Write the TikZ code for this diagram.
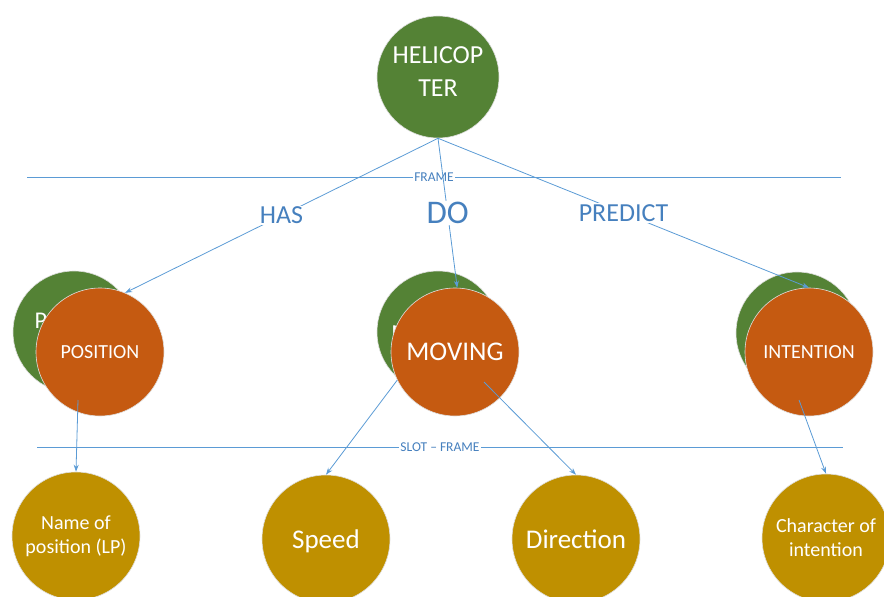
\documentclass[tikz,border=0pt]{standalone}
\usepackage{fontspec}
\setmainfont{Carlito}
\usetikzlibrary{arrows.meta}

\definecolor{framegreen}{RGB}{84,130,53}
\definecolor{slotorange}{RGB}{197,90,17}
\definecolor{valuegold}{RGB}{191,144,0}
\definecolor{linkblue}{RGB}{91,155,213}
\definecolor{labelblue}{RGB}{70,128,190}

\begin{document}
\begin{tikzpicture}[x=1pt, y=-1pt,
  % common options for the circles:
  ball/.style = {circle, draw=white!75!gray, line width=0.6pt, text=white,
              align=center, inner sep=0},
  frameball/.style = {ball, fill=framegreen, minimum size=122pt,
              font=\fontsize{26}{33}\selectfont},
  slotball/.style = {ball, fill=slotorange, minimum size=128pt},
  valueball/.style = {ball, fill=valuegold, minimum size=128pt},
  % common options for the links and their labels:
  link/.style = {draw=linkblue, line width=0.8pt, -{Stealth[length=7pt,width=5pt]}},
  rel/.style = {fill=white, text=labelblue, inner sep=1pt,
              font=\fontsize{26}{30}\selectfont},
  rule/.style = {draw=linkblue, line width=0.8pt},
  rulelabel/.style = {fill=white, text=labelblue, inner sep=1pt,
              font=\fontsize{13.5}{15}\selectfont}
	]
  \useasboundingbox (0,0) rectangle (884,597);

  % separators
  \draw[rule] (27,177) -- (841,177) node[rulelabel, midway] (frame) {FRAME};
  \draw[rule] (37,447) -- (843,447) node[rulelabel, midway] (slot) {SLOT -- FRAME};

  % frames
  \node[frameball, text depth=10pt] (heli) at (438,77) {HELICOP\\TER};
  \node[frameball, font=\fontsize{24}{30}\selectfont, text height=52pt] (posFrame) at (74,332) {POSITIO\\N};
  \node[frameball, text height=22pt] (movFrame) at (438,332) {MOVING};
  \node[frameball] (intFrame) at (797,333) {};

  % slots
  \node[slotball, font=\fontsize{20}{24}\selectfont] (position) at (100,352) {POSITION};
  \node[slotball, font=\fontsize{27}{32}\selectfont] (moving) at (455,352) {MOVING};
  \node[slotball, font=\fontsize{20}{24}\selectfont] (intention) at (809,352) {INTENTION};

  % values
  \node[valueball, font=\fontsize{20}{24}\selectfont] (lp) at (76,536) {Name of\\position (LP)};
  \node[valueball, font=\fontsize{27}{32}\selectfont, text depth=0pt] (speed) at (326,539) {Speed};
  \node[valueball, font=\fontsize{27}{32}\selectfont] (direction) at (576,539) {Direction};
  \node[valueball, font=\fontsize{20}{24}\selectfont] (character) at (826,538) {Character of\\intention};

  \draw[link] (heli.south) -- node[rel] (has) {HAS} (position.67);
  \draw[link] (heli.south) -- node[rel, font=\fontsize{33}{36}\selectfont] (do) {DO} (moving.88);
  \draw[link] (heli.south) -- node[rel] (predict) {PREDICT} (intention.north);

  \draw[link] ([shift={(-22,48)}]position.center) -- (lp.north);
  \draw[link] (moving.206) -- (speed.north);
  \draw[link] ([shift={(29,30)}]moving.center) -- (direction.north);
  \draw[link] ([shift={(-10,48)}]intention.center) -- (character.north);
\end{tikzpicture}
\end{document}
